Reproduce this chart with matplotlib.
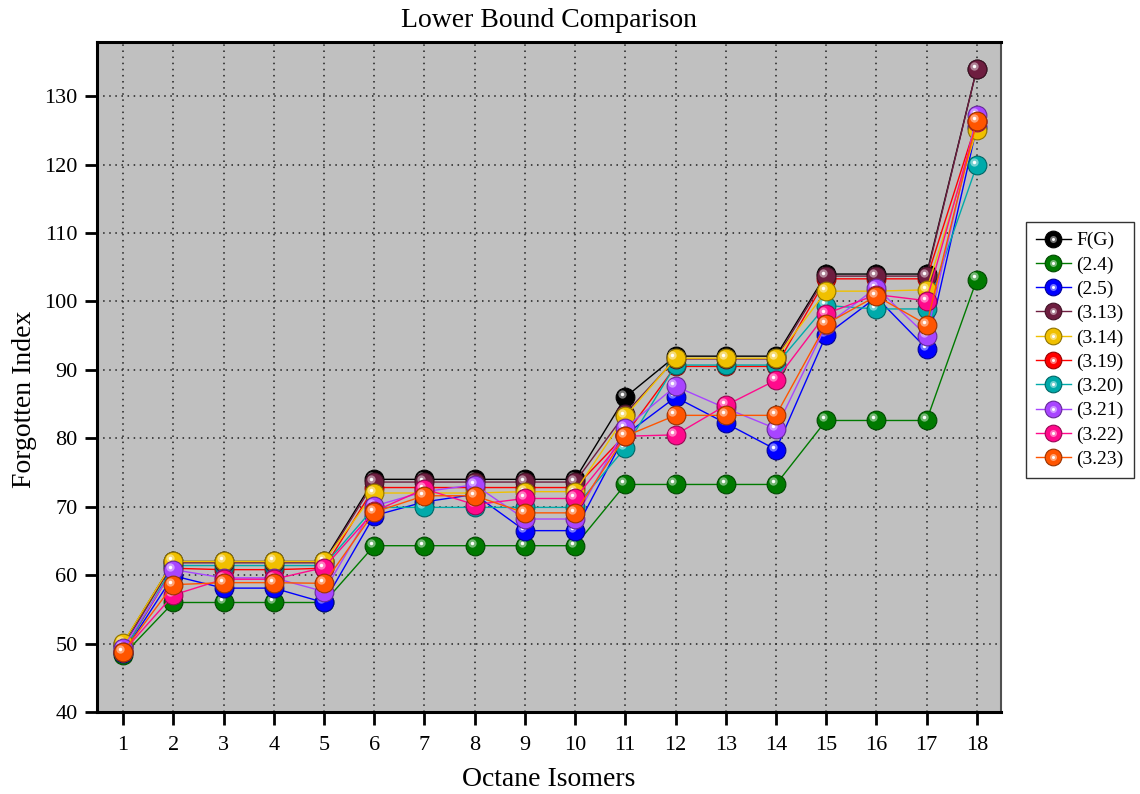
import matplotlib
matplotlib.use("Agg")
import matplotlib.pyplot as plt
import matplotlib.transforms as mtransforms
from matplotlib.lines import Line2D
from matplotlib.legend_handler import HandlerTuple
import matplotlib.colors as mcolors

plt.rcParams['font.family'] = ['Liberation Serif', 'DejaVu Serif']

isomers = list(range(1, 19))

fg   = [50, 62, 62, 62, 62, 74, 74, 74, 74, 74, 86, 92, 92, 92, 104, 104, 104, 134]
b24  = [48.3, 56, 56, 56, 56, 64.3, 64.3, 64.3, 64.3, 64.3, 73.25, 73.25, 73.25, 73.25, 82.6, 82.6, 82.6, 103.2]
b25  = [48.6, 59.9, 58.1, 58.1, 56.0, 68.7, 70.7, 71.8, 66.5, 66.5, 80.5, 86.0, 82.2, 78.35, 95.1, 100.6, 93.1, 125.5]
b313 = [49.5, 61.8, 61.8, 61.8, 61.8, 73.6, 73.6, 73.6, 73.6, 73.6, 83.6, 91.6, 91.6, 91.6, 103.7, 103.7, 103.7, 134]
b314 = [50.1, 62, 62, 62, 62, 72, 72, 72, 72.2, 72.2, 83.2, 91.7, 91.7, 91.7, 101.5, 101.5, 101.7, 125]
b319 = [48.8, 61, 60.8, 60.8, 61, 72.8, 72.8, 72.8, 72.8, 72.8, 80.5, 90.5, 90.5, 90.5, 103.3, 103.3, 103.3, 126.3]
b320 = [48.7, 61.4, 61.4, 61.4, 61.4, 69.9, 69.9, 69.9, 69.9, 69.9, 78.6, 90.7, 90.7, 90.7, 99.4, 98.9, 98.9, 119.9]
b321 = [49.4, 60.8, 59.6, 59.6, 57.6, 70.1, 72.2, 73.2, 68.2, 68.2, 81.5, 87.6, 84.4, 81.4, 96.5, 102, 95.0, 127.3]
b322 = [48.8, 57.1, 59.4, 59.4, 61.1, 69.3, 72.6, 70.3, 71.2, 71.2, 80.3, 80.5, 84.8, 88.5, 98.2, 101, 100.1, 126.2]
b323 = [48.8, 58.6, 58.9, 58.9, 58.8, 69.2, 71.6, 71.6, 69.1, 69.1, 80.3, 83.35, 83.35, 83.35, 96.7, 100.8, 96.6, 126.4]

labels = ['F(G)', '(2.4)', '(2.5)', '(3.13)', '(3.14)', '(3.19)', '(3.20)', '(3.21)', '(3.22)', '(3.23)']
series = [fg, b24, b25, b313, b314, b319, b320, b321, b322, b323]
colors = ['#000000', '#007A00', '#0000FF', '#6E1E40', '#F0C000', '#FF0000',
          '#00AAAA', '#A845FF', '#FF0A8C', '#FF5500']
# drawing order (stacking) as seen in the reference
stack = [0, 1, 2, 5, 6, 3, 4, 7, 8, 9]

fig = plt.figure(figsize=(11.4, 7.94), dpi=100)
ax = fig.add_axes([0.0851, 0.1033, 0.7929, 0.8437])
ax.set_facecolor('#C0C0C0')

hl = mtransforms.offset_copy(ax.transData, fig=fig, x=-2.2, y=2.2, units='points')

def shade(c, f):
    r, g, b = mcolors.to_rgb(c)
    return (r * f, g * f, b * f)

def tint(c, f):
    r, g, b = mcolors.to_rgb(c)
    return (r + (1 - r) * f, g + (1 - g) * f, b + (1 - b) * f)

handles = []
for i, (vals, lab, col) in enumerate(zip(series, labels, colors)):
    z = 3 + stack.index(i)
    ax.plot(isomers, vals, '-', color=col, lw=1.0, zorder=z)
    ax.plot(isomers, vals, 'o', ms=13.5, mfc=col, mec=shade(col, 0.6), mew=0.8,
            ls='none', zorder=z)
    ax.plot(isomers, vals, 'o', ms=6, mfc=tint(col, 0.45), mec='none',
            ls='none', zorder=z, transform=hl)
    ax.plot(isomers, vals, 'o', ms=2.5, mfc='white', mec='none',
            ls='none', zorder=z, transform=hl)
    h1 = Line2D([], [], color=col, lw=1.0, marker='o', ms=12, mfc=col,
                mec=shade(col, 0.6), mew=0.8)
    h2 = Line2D([], [], ls='none', marker='o', ms=5, mfc=tint(col, 0.45), mec='none')
    h3 = Line2D([], [], ls='none', marker='o', ms=2.2, mfc='white', mec='none')
    handles.append((h1, h2, h3))

ax.set_xlim(0.48, 18.48)
ax.set_ylim(40, 137.9)
ax.set_xticks(isomers)
ax.set_yticks(range(40, 131, 10))
ax.tick_params(axis='both', which='major', direction='out', length=9, width=2,
               labelsize=16, pad=5)
ax.tick_params(axis='x', pad=8)
ax.grid(True, linestyle=(0, (1, 3)), color='#202020', lw=1.1)
ax.set_axisbelow(True)

for s in ['left', 'bottom', 'top']:
    ax.spines[s].set_linewidth(2.2)
    ax.spines[s].set_color('black')
ax.spines['right'].set_linewidth(1.5)
ax.spines['right'].set_color('#505050')

ax.set_title('Lower Bound Comparison', fontsize=20, pad=11)
ax.set_xlabel('Octane Isomers', fontsize=20, labelpad=9)
ax.set_ylabel('Forgotten Index', fontsize=20)
ax.yaxis.set_label_coords(-0.066, 0.467)

leg = fig.legend(handles, labels, loc='upper left', bbox_to_anchor=(0.9, 0.7204),
                 fontsize=14, frameon=True, fancybox=False, edgecolor='black',
                 handlelength=1.8, handletextpad=0.3, labelspacing=0.34,
                 borderpad=0.5, borderaxespad=0.0,
                 handler_map={tuple: HandlerTuple(ndivide=1, pad=0)})
leg.get_frame().set_linewidth(1.0)

fig.savefig('out.png', dpi=100)
